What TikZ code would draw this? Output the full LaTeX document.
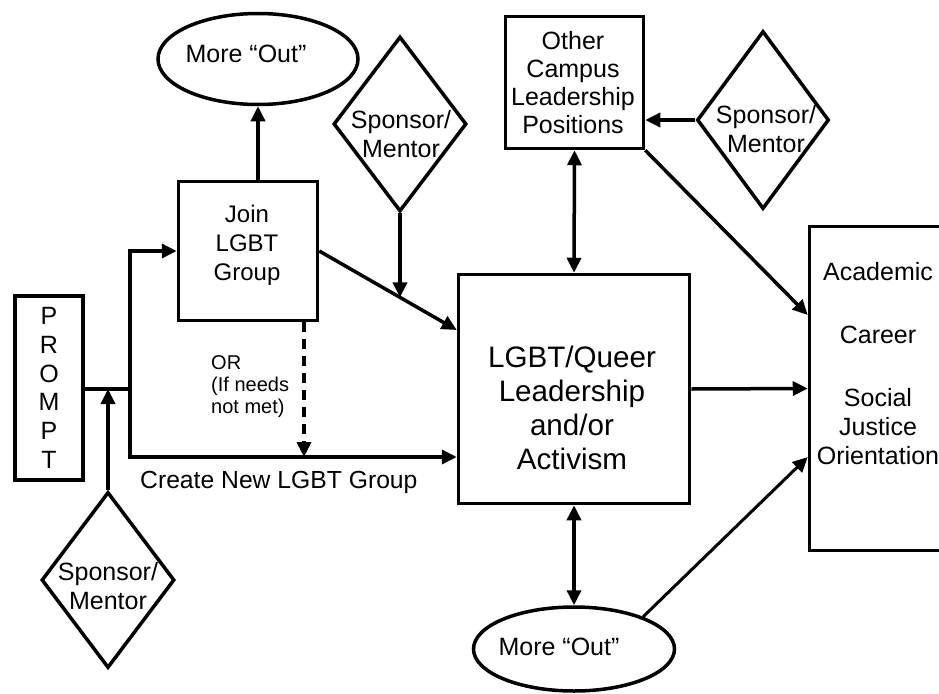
\documentclass[tikz,border=0pt]{standalone}
\usepackage{fontspec}
\setmainfont{Liberation Sans}
\usetikzlibrary{shapes.geometric,arrows.meta,calc}
\begin{document}
\begin{tikzpicture}[x=1pt,y=-1pt,
  every node/.style={inner sep=0pt},
  box/.style={draw, line width=3.5pt, rectangle},
  diam/.style={draw, line width=3.5pt, diamond},
  oval/.style={draw, line width=3.5pt, ellipse},
  txt/.style={align=center, font=\fontsize{25}{29}\selectfont},
  tip/.tip={Triangle[length=15pt,width=14pt]},
  con/.style={line width=3.5pt, -tip},
  dcon/.style={line width=3.5pt, tip-tip},
  plain/.style={line width=3.5pt}]
\useasboundingbox (0,0) rectangle (939,693);
\clip (0,0) rectangle (939,693);

% shapes
\node[box, line width=4.5pt, minimum width=68, minimum height=184, align=center,
      font=\fontsize{25}{28.7}\selectfont] (prompt) at (49,388) {P\\R\\O\\M\\P\\T};
\node[box, minimum width=139, minimum height=139] (join) at (248,251) {};
\node[txt, font=\fontsize{24}{29}\selectfont] (jointxt) at (247,245) {Join\\LGBT\\Group};
\node[box, minimum width=231, minimum height=229] (central) at (574,389) {};
\node[txt, font=\fontsize{29.6}{34}\selectfont] (centraltxt) at (572,408) {LGBT/Queer\\Leadership\\and/or\\Activism};
\node[box, minimum width=138, minimum height=132] (other) at (574.5,82.5) {};
\node[txt, font=\fontsize{25}{28}\selectfont] (othertxt) at (573,83) {Other\\Campus\\Leadership\\Positions};
\node[box, minimum width=150, minimum height=324] (res) at (884.5,388.5) {};
\node[txt] (restxt) at (878,364) {Academic\\[34pt]Career\\[34pt]Social\\Justice\\Orientation};

\node[oval, minimum width=200, minimum height=91] (out1) at (258,59) {};
\node[txt] (out1txt) at (246,54) {More “Out”};
\node[oval, minimum width=201, minimum height=84] (out2) at (574,649) {};
\node[txt] (out2txt) at (559,647) {More “Out”};

\node[diam, minimum width=133, minimum height=175] (sp1) at (400,124) {};
\node[txt] (sp1txt) at (401,134.5) {Sponsor/\\Mentor};
\node[diam, minimum width=132, minimum height=178] (sp2) at (763,120) {};
\node[txt] (sp2txt) at (766,129.5) {Sponsor/\\Mentor};
\node[diam, minimum width=133, minimum height=176] (sp3) at (108,580) {};
\node[txt] (sp3txt) at (108,586.5) {Sponsor/\\Mentor};

\node[font=\fontsize{20}{22}\selectfont, align=left, anchor=north west] (ortxt) at (211,355) {OR\\(If needs\\not met)};
\node[font=\fontsize{24.7}{29}\selectfont, anchor=base west] (createtxt) at (140,488) {Create New LGBT Group};

% helper coordinates
\coordinate (split) at (130,389);
\coordinate (newin) at (457,457);
\coordinate (diagin) at (457,330);
\coordinate (dashend) at (304,457);
\coordinate (resin1) at (808,315);
\coordinate (resin3) at (808,457);
\path (join.east) -- (diagin) coordinate[pos=0.587] (meet);

% connectors
\draw[plain] (prompt.east |- split) -- (split);
\draw[con] (split) |- (join.west);
\draw[con] (split) |- (central.west |- newin);
\draw[con] (sp3.north) -- (sp3.north |- split);
\draw[con] (join.north -| out1.south) -- (out1.south);
\draw[con] (join.east) -- (central.west |- diagin);
\draw[con] (sp1.south) -- (sp1.south |- meet);
\draw[con, line width=4pt, dash pattern=on 10pt off 7pt] (join.south -| dashend) -- (dashend);
\draw[dcon] (central.north) -- (other.south);
\draw[con] (sp2.west) -- (sp2.west -| other.east);
\draw[con] (other.south east) -- (res.west |- resin1);
\draw[con] (central.east) -- (res.west);
\draw[con, line width=3pt] (out2.25) -- (res.west |- resin3);
\draw[dcon] (central.south) -- (out2.north);
\end{tikzpicture}
\end{document}
